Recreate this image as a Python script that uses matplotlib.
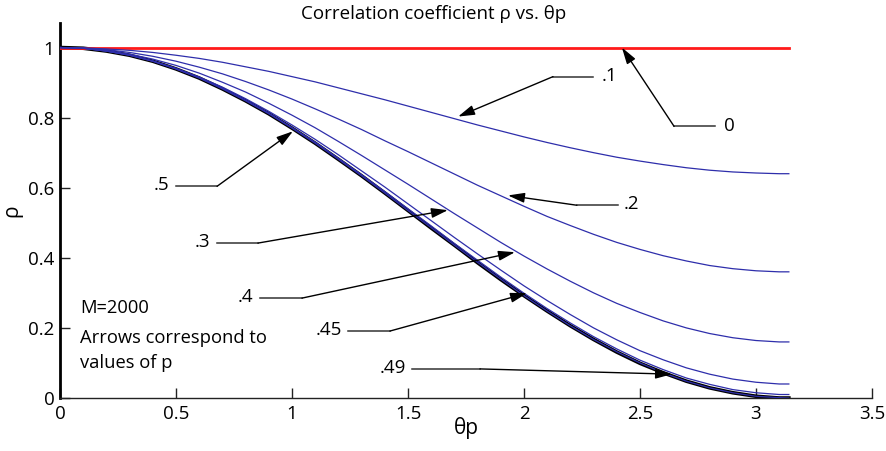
import matplotlib
matplotlib.use("Agg")
import matplotlib.pyplot as plt

plt.rcParams['font.family'] = ['Open Sans', 'DejaVu Sans']

# theta_p sample points (rad), last one is pi
theta = [0.0, 0.1, 0.2, 0.3, 0.4, 0.5, 0.6, 0.7, 0.8, 0.9,
         1.0, 1.1, 1.2, 1.3, 1.4, 1.5, 1.6, 1.7, 1.8, 1.9,
         2.0, 2.1, 2.2, 2.3, 2.4, 2.5, 2.6, 2.7, 2.8, 2.9,
         3.0, 3.1, 3.1416]

# correlation coefficient rho for each value of p
rho_p0 = [1.0, 1.0]
theta_p0 = [0.0, 3.1416]
rho_p10 = [1.000, 0.999, 0.996, 0.992, 0.986, 0.978, 0.969, 0.958, 0.945, 0.932,
           0.917, 0.902, 0.885, 0.868, 0.851, 0.833, 0.815, 0.797, 0.779, 0.762,
           0.745, 0.729, 0.714, 0.700, 0.687, 0.676, 0.666, 0.657, 0.650, 0.645,
           0.642, 0.640, 0.640]
rho_p20 = [1.000, 0.998, 0.994, 0.986, 0.975, 0.961, 0.944, 0.925, 0.903, 0.879,
           0.853, 0.825, 0.796, 0.766, 0.734, 0.703, 0.671, 0.639, 0.607, 0.577,
           0.547, 0.518, 0.492, 0.467, 0.444, 0.424, 0.406, 0.391, 0.378, 0.369,
           0.363, 0.360, 0.360]
rho_p30 = [1.000, 0.998, 0.992, 0.981, 0.967, 0.949, 0.927, 0.901, 0.873, 0.841,
           0.807, 0.771, 0.732, 0.692, 0.651, 0.610, 0.568, 0.526, 0.485, 0.444,
           0.405, 0.368, 0.333, 0.300, 0.270, 0.244, 0.220, 0.200, 0.184, 0.172,
           0.164, 0.160, 0.160]
rho_p40 = [1.000, 0.998, 0.990, 0.979, 0.962, 0.941, 0.916, 0.887, 0.854, 0.818,
           0.779, 0.738, 0.694, 0.648, 0.602, 0.554, 0.506, 0.458, 0.411, 0.365,
           0.320, 0.278, 0.238, 0.200, 0.166, 0.135, 0.109, 0.086, 0.068, 0.054,
           0.045, 0.040, 0.040]
rho_p45 = [1.000, 0.998, 0.990, 0.978, 0.961, 0.939, 0.914, 0.884, 0.850, 0.813,
           0.772, 0.730, 0.684, 0.637, 0.589, 0.540, 0.491, 0.441, 0.393, 0.345,
           0.299, 0.255, 0.214, 0.175, 0.140, 0.108, 0.081, 0.057, 0.039, 0.024,
           0.015, 0.010, 0.010]
rho_p49 = [1.000, 0.998, 0.990, 0.978, 0.961, 0.939, 0.913, 0.882, 0.848, 0.811,
           0.770, 0.727, 0.681, 0.634, 0.585, 0.535, 0.486, 0.436, 0.387, 0.339,
           0.292, 0.248, 0.206, 0.167, 0.132, 0.100, 0.072, 0.048, 0.029, 0.015,
           0.005, 0.001, 0.000]
rho_p50 = [1.000, 0.998, 0.990, 0.978, 0.961, 0.939, 0.913, 0.882, 0.848, 0.811,
           0.770, 0.727, 0.681, 0.634, 0.585, 0.535, 0.485, 0.436, 0.386, 0.338,
           0.292, 0.248, 0.206, 0.167, 0.131, 0.099, 0.072, 0.048, 0.029, 0.015,
           0.005, 0.000, 0.000]

# arrow labels: text, text anchor, elbow (start, end) of the leader, arrow tip
labels = ['0', '.1', '.2', '.3', '.4', '.45', '.49', '.5']
text_xy = [(2.86, 0.775), (2.335, 0.92), (2.43, 0.553), (0.645, 0.445),
           (0.835, 0.288), (1.215, 0.195), (1.49, 0.087), (0.47, 0.607)]
text_ha = ['left', 'left', 'left', 'right', 'right', 'right', 'right', 'right']
leader_x = [(2.823, 2.647), (2.297, 2.125), (2.405, 2.228), (0.677, 0.853),
            (0.862, 1.043), (1.241, 1.422), (1.517, 1.81), (0.5, 0.677)]
leader_y = [0.775, 0.917, 0.550, 0.442, 0.285, 0.191, 0.083, 0.604]
tip_xy = [(2.422, 1.0), (1.716, 0.803), (1.931, 0.578), (1.672, 0.536),
          (1.961, 0.416), (2.013, 0.299), (2.638, 0.068), (1.004, 0.761)]

blue = '#2e2eab'

fig = plt.figure(figsize=(8.86, 4.51), dpi=100)
ax = fig.add_axes([0.0677, 0.1175, 0.9165, 0.8315])

ax.plot(theta_p0, rho_p0, color='#ff1a1a', lw=2.0, zorder=3)
ax.plot(theta, rho_p50, color='black', lw=2.6, zorder=2)
for rho in [rho_p10, rho_p20, rho_p30, rho_p40, rho_p45, rho_p49]:
    ax.plot(theta, rho, color=blue, lw=0.9, zorder=3)

for lab, txy, ha, lx, ly, tip in zip(labels, text_xy, text_ha,
                                     leader_x, leader_y, tip_xy):
    ax.text(txy[0], txy[1], lab, ha=ha, va='center', fontsize=13.5)
    ax.plot(lx, [ly, ly], color='#333333', lw=1.1, zorder=4)
    ax.annotate('', xy=tip, xytext=(lx[1], ly),
                arrowprops=dict(arrowstyle='-|>,head_length=1.0,head_width=0.3',
                                color='black', lw=1.0, shrinkA=0, shrinkB=0),
                zorder=5)

ax.text(0.086, 0.256, 'M=2000', fontsize=13.2, va='center')
ax.text(0.086, 0.171, 'Arrows correspond to', fontsize=13.2, va='center')
ax.text(0.086, 0.100, 'values of p', fontsize=13.2, va='center')

ax.set_xlim(0, 3.5)
ax.set_ylim(0, 1.07)
ax.set_xticks([0, 0.5, 1, 1.5, 2, 2.5, 3, 3.5])
ax.set_xticklabels(['0', '0.5', '1', '1.5', '2', '2.5', '3', '3.5'])
ax.set_yticks([0, 0.2, 0.4, 0.6, 0.8, 1])
ax.set_yticklabels(['0', '0.2', '0.4', '0.6', '0.8', '1'])
ax.tick_params(direction='in', length=7, width=1, labelsize=13.5,
               color='#222222')
ax.tick_params(axis='x', pad=5)
ax.tick_params(axis='y', pad=4)
ax.spines['top'].set_visible(False)
ax.spines['right'].set_visible(False)
ax.spines['left'].set_linewidth(2.0)
ax.spines['bottom'].set_linewidth(1.0)
ax.spines['bottom'].set_color('#222222')

ax.set_xlabel('θp', fontsize=15, labelpad=-4)
ax.set_ylabel('ρ', fontsize=15, labelpad=4)
ax.set_title('Correlation coefficient ρ vs. θp', fontsize=13.5, pad=1, x=0.46)

fig.savefig('out.png', dpi=100)
